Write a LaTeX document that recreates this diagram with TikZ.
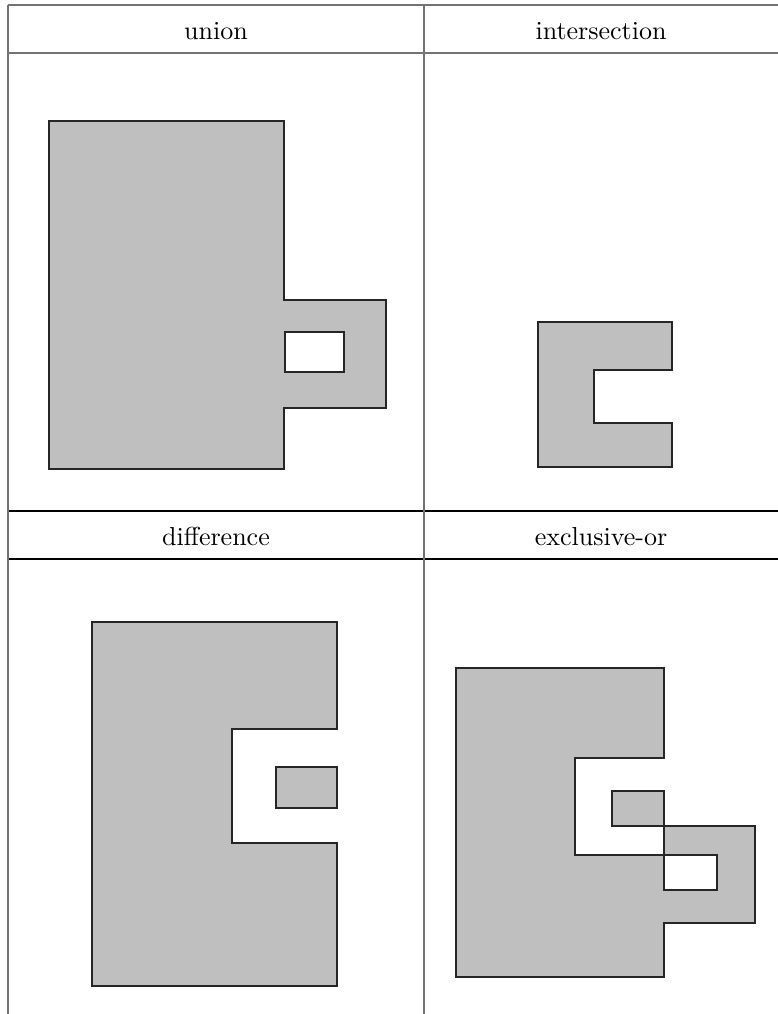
\documentclass[tikz,border=0pt]{standalone}
\usepackage{tikz}

\tikzset{
  rule/.style={line width=0.4pt},
  region/.style={fill=lightgray,draw=black!85,line width=0.4pt,even odd rule},
  head/.style={inner sep=0pt,anchor=base}
}

\begin{document}
\begin{tikzpicture}[x=0.3846pt,y=-0.3846pt]
\useasboundingbox (0,0) rectangle (778,1014);
% table
\draw[rule,black!55] (8,5) -- (778,5) (8,53) -- (778,53);
\draw[rule] (8,511) -- (778,511) (8,559) -- (778,559);
\draw[rule,black!55] (8,5) -- (8,1014) (424,5) -- (424,1014);
\node[head] (hunion) at (216,39) {union};
\node[head] (hinter) at (601,39) {intersection};
\node[head] (hdiff) at (216,545) {difference};
\node[head] (hxor) at (601,545) {exclusive-or};
% union
\draw[region] (49,121) -- (284,121) -- (284,300) -- (386,300) -- (386,408)
  -- (284,408) -- (284,469) -- (49,469) -- cycle
  (285,332) rectangle (344,372);
% intersection
\draw[region] (538,322) -- (672,322) -- (672,370) -- (594,370) -- (594,423)
  -- (672,423) -- (672,467) -- (538,467) -- cycle;
% difference
\draw[region] (92,622) -- (337,622) -- (337,729) -- (232,729) -- (232,843)
  -- (337,843) -- (337,986) -- (92,986) -- cycle;
\draw[region] (276,767) rectangle (337,808);
% exclusive-or
\draw[region] (456,668) -- (664,668) -- (664,758) -- (575,758) -- (575,855)
  -- (664,855) -- (664,826) -- (755,826) -- (755,923) -- (664,923)
  -- (664,977) -- (456,977) -- cycle
  (664,855) rectangle (717,890);
\draw[region] (612,791) rectangle (664,826);
\end{tikzpicture}
\end{document}
